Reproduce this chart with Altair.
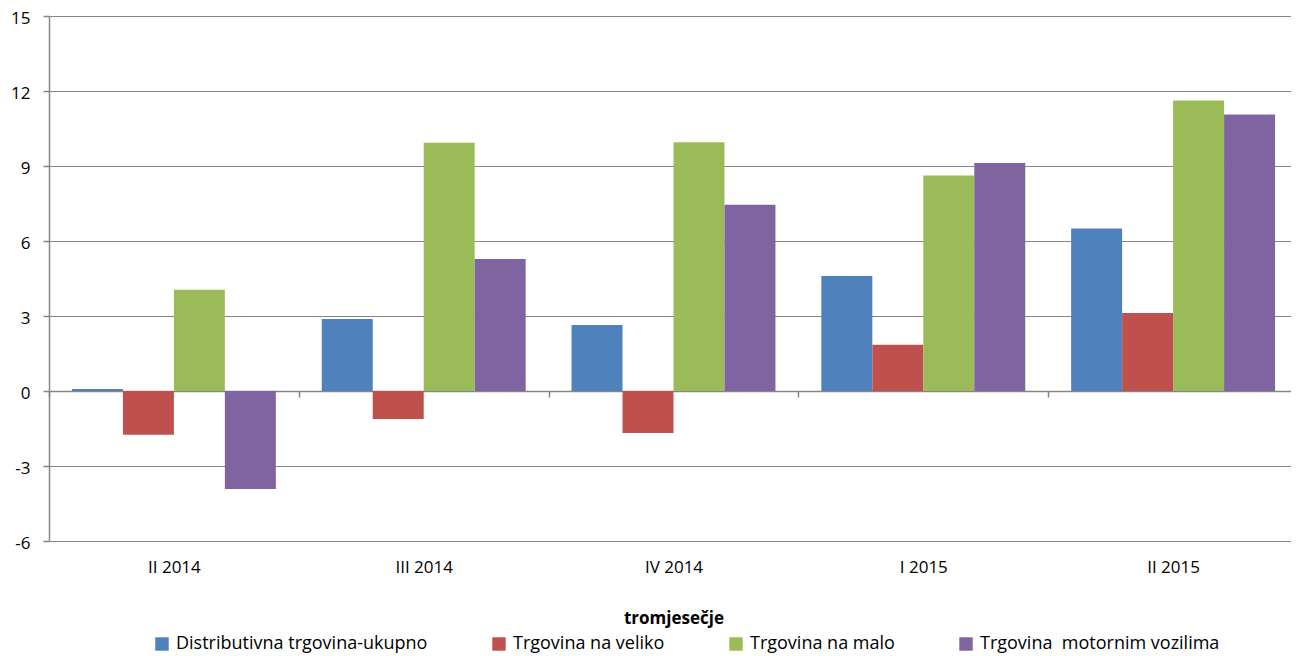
import altair as alt
import pandas as pd

quarters = ["II 2014", "III 2014", "IV 2014", "I 2015", "II 2015"]
series = [
    "Distributivna trgovina-ukupno",
    "Trgovina na veliko",
    "Trgovina na malo",
    "Trgovina  motornim vozilima",
]
total = [0.08, 2.88, 2.64, 4.60, 6.50]
wholesale = [-1.75, -1.12, -1.68, 1.85, 3.12]
retail = [4.05, 9.93, 9.95, 8.62, 11.62]
motor = [-3.92, 5.28, 7.45, 9.12, 11.06]
colors = ["#4F81BD", "#C0504D", "#9BBB59", "#8064A2"]
y_ticks = [-6, -3, 0, 3, 6, 9, 12, 15]

rows = []
for name, vals in zip(series, [total, wholesale, retail, motor]):
    for q, v in zip(quarters, vals):
        rows.append({"quarter": q, "series": name, "value": v})
df = pd.DataFrame(rows)

FONT = "Open Sans"
GRAY = "#868686"

chart = (
    alt.Chart(df)
    .mark_bar()
    .encode(
        x=alt.X(
            "quarter:N",
            sort=quarters,
            scale=alt.Scale(paddingInner=0, paddingOuter=0),
            axis=alt.Axis(
                title="tromjesečje",
                orient="bottom",
                offset=-150,
                labelAngle=0,
                tickBand="extent",
                domainColor=GRAY,
                domainWidth=1.5,
                tickColor=GRAY,
                tickWidth=1.5,
                tickSize=6,
                labelPadding=162,
                labelFontSize=17,
                labelFont=FONT,
                labelColor="black",
                titleFont=FONT,
                titleFontSize=17,
                titleFontWeight="bold",
                titleColor="black",
                titlePadding=35,
            ),
        ),
        xOffset=alt.XOffset(
            "series:N", sort=series, scale=alt.Scale(paddingInner=0, paddingOuter=0.45)
        ),
        y=alt.Y(
            "value:Q",
            scale=alt.Scale(domain=[-6, 15], nice=False, zero=False),
            axis=alt.Axis(
                title=None,
                values=y_ticks,
                labelExpr="toString(datum.value)",
                grid=True,
                gridColor=GRAY,
                gridWidth=1.2,
                domainColor=GRAY,
                domainWidth=1.5,
                tickColor=GRAY,
                tickWidth=1.5,
                tickSize=6,
                labelPadding=13,
                labelOffset=2,
                labelFontSize=17,
                labelFont=FONT,
                labelColor="black",
            ),
        ),
        color=alt.Color(
            "series:N",
            sort=series,
            scale=alt.Scale(domain=series, range=colors),
            legend=alt.Legend(
                title=None,
                orient="none",
                legendX=104,
                legendY=619,
                direction="horizontal",
                columns=4,
                columnPadding=62,
                symbolType="square",
                symbolSize=180,
                symbolStrokeWidth=0,
                labelFont=FONT,
                labelFontSize=18,
                labelColor="black",
                labelOffset=5,
                labelLimit=400,
                labelExpr="replace(datum.label, '  ', '\u00a0 ')",
            ),
        ),
    )
    .properties(
        width=1249,
        height=525,
        padding={"left": 41, "top": 8, "right": -7, "bottom": 115},
        autosize=alt.AutoSizeParams(type="none"),
    )
    .configure_view(stroke=None)
    .configure(font=FONT)
)

chart.save("out.html", embed_options={"renderer": "svg", "actions": False})
